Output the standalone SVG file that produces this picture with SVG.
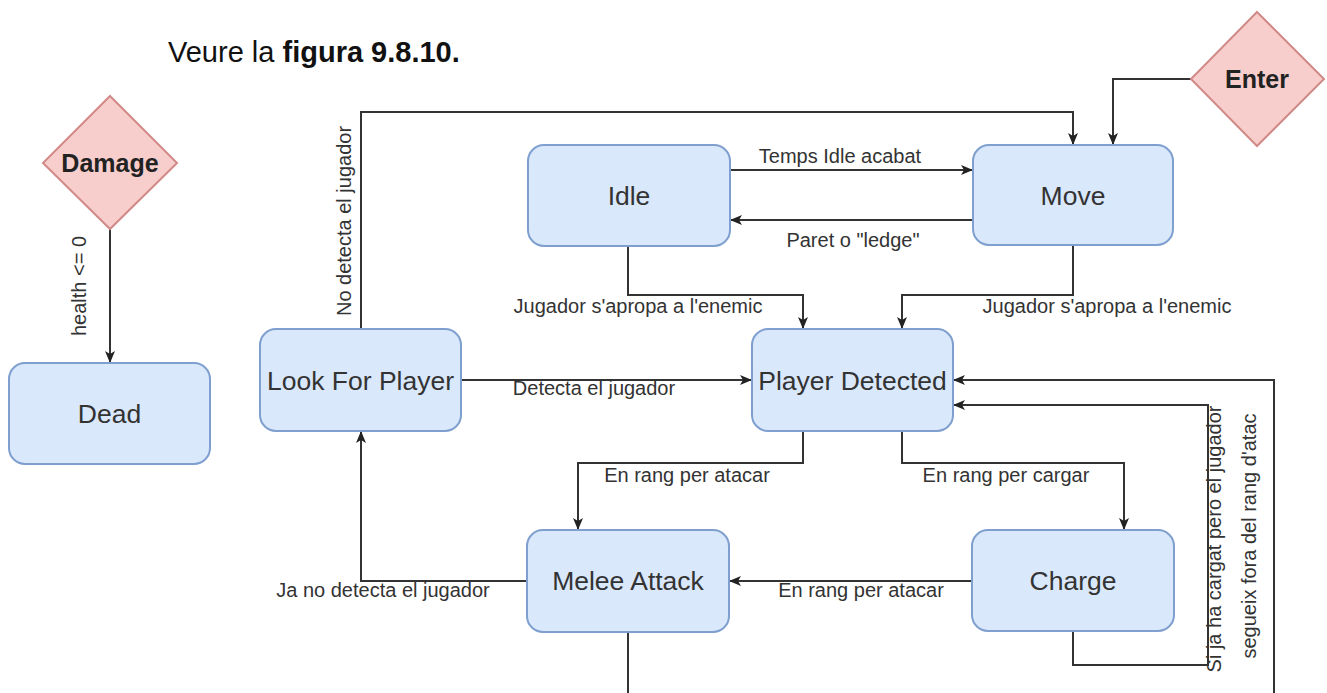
<svg xmlns="http://www.w3.org/2000/svg" width="1327" height="693" viewBox="0 0 1327 693">
<style>
  .node rect { fill: #dae8fc; stroke: #7f9fcf; stroke-width: 2; }
  .dia polygon { fill: #f8cecc; stroke: #d08a88; stroke-width: 2; }
  .nl { font-family: "Liberation Sans", Arial, sans-serif; font-size: 26.5px; fill: #333; text-anchor: middle; }
  .dl { font-family: "Liberation Sans", Arial, sans-serif; font-size: 25px; font-weight: bold; fill: #222; text-anchor: middle; }
  .el { font-family: "Liberation Sans", Arial, sans-serif; font-size: 20px; fill: #333; text-anchor: middle; }
  .edge { fill: none; stroke: #333; stroke-width: 2; }
  .title { font-family: "Liberation Sans", Arial, sans-serif; font-size: 29px; fill: #111; }
</style>
<defs>
  <marker id="arr" viewBox="0 0 12 12" refX="12" refY="6" markerWidth="12" markerHeight="12" markerUnits="userSpaceOnUse" orient="auto">
    <path d="M0,1 L12,6 L0,11 L3,6 z" fill="#222"/>
  </marker>
</defs>
<rect width="1327" height="693" fill="#ffffff"/>
<text class="title" x="168" y="62">Veure la <tspan font-weight="bold">figura 9.8.10.</tspan></text>

<g id="connectors">
  <path class="edge" d="M1191,79 H1113 V145" marker-end="url(#arr)"/>
  <path class="edge" d="M361,329 V112 H1073 V145" marker-end="url(#arr)"/>
  <path class="edge" d="M730,170 H973" marker-end="url(#arr)"/>
  <path class="edge" d="M973,220 H730" marker-end="url(#arr)"/>
  <path class="edge" d="M628,246 V295 H803 V329" marker-end="url(#arr)"/>
  <path class="edge" d="M1073,245 V295 H902 V329" marker-end="url(#arr)"/>
  <path class="edge" d="M461,380 H752" marker-end="url(#arr)"/>
  <path class="edge" d="M803,431 V463 H578 V530" marker-end="url(#arr)"/>
  <path class="edge" d="M902,431 V463 H1124 V530" marker-end="url(#arr)"/>
  <path class="edge" d="M972,581 H729" marker-end="url(#arr)"/>
  <path class="edge" d="M527,581 H361 V431" marker-end="url(#arr)"/>
  <path class="edge" d="M628,632 V693"/>
  <path class="edge" d="M1274,693 V380 H953" marker-end="url(#arr)"/>
  <path class="edge" d="M1073,631 V665 H1208 V405 H953" marker-end="url(#arr)"/>
  <path class="edge" d="M110,229 V363" marker-end="url(#arr)"/>

  <text class="el" x="840" y="163">Temps Idle acabat</text>
  <text class="el" x="853" y="247">Paret o "ledge"</text>
  <text class="el" x="638" y="313">Jugador s'apropa a l'enemic</text>
  <text class="el" x="1107" y="313">Jugador s'apropa a l'enemic</text>
  <text class="el" x="594" y="395">Detecta el jugador</text>
  <text class="el" x="687" y="482">En rang per atacar</text>
  <text class="el" x="1006" y="482">En rang per cargar</text>
  <text class="el" x="861" y="597">En rang per atacar</text>
  <text class="el" x="383" y="597">Ja no detecta el jugador</text>
  <text class="el" transform="translate(351,221) rotate(-90)">No detecta el jugador</text>
  <text class="el" transform="translate(86,286) rotate(-90)">health &lt;= 0</text>
  <text class="el" transform="translate(1221,539) rotate(-90)">Si ja ha cargat pero el jugador</text>
  <text class="el" transform="translate(1256,536) rotate(-90)">segueix fora del rang d'atac</text>
</g>

<g id="damage" class="dia">
  <polygon points="110,96 177,163 110,229 43,163"/>
  <text class="dl" x="110" y="172">Damage</text>
</g>
<g id="enter" class="dia">
  <polygon points="1257,12 1324,79 1257,146 1191,79"/>
  <text class="dl" x="1257" y="88">Enter</text>
</g>
<g id="dead" class="node">
  <rect x="9" y="363" width="201" height="101" rx="16"/>
  <text class="nl" x="109.5" y="423">Dead</text>
</g>
<g id="look-for-player" class="node">
  <rect x="260" y="329" width="201" height="102" rx="16"/>
  <text class="nl" x="360.5" y="389.5">Look For Player</text>
</g>
<g id="idle" class="node">
  <rect x="528" y="145" width="202" height="101" rx="16"/>
  <text class="nl" x="629" y="205">Idle</text>
</g>
<g id="move" class="node">
  <rect x="973" y="145" width="200" height="100" rx="16"/>
  <text class="nl" x="1073" y="205">Move</text>
</g>
<g id="player-detected" class="node">
  <rect x="752" y="329" width="201" height="102" rx="16"/>
  <text class="nl" x="852.5" y="389.5">Player Detected</text>
</g>
<g id="melee-attack" class="node">
  <rect x="527" y="530" width="202" height="102" rx="16"/>
  <text class="nl" x="628" y="590">Melee Attack</text>
</g>
<g id="charge" class="node">
  <rect x="972" y="530" width="202" height="101" rx="16"/>
  <text class="nl" x="1073" y="590">Charge</text>
</g>
</svg>
